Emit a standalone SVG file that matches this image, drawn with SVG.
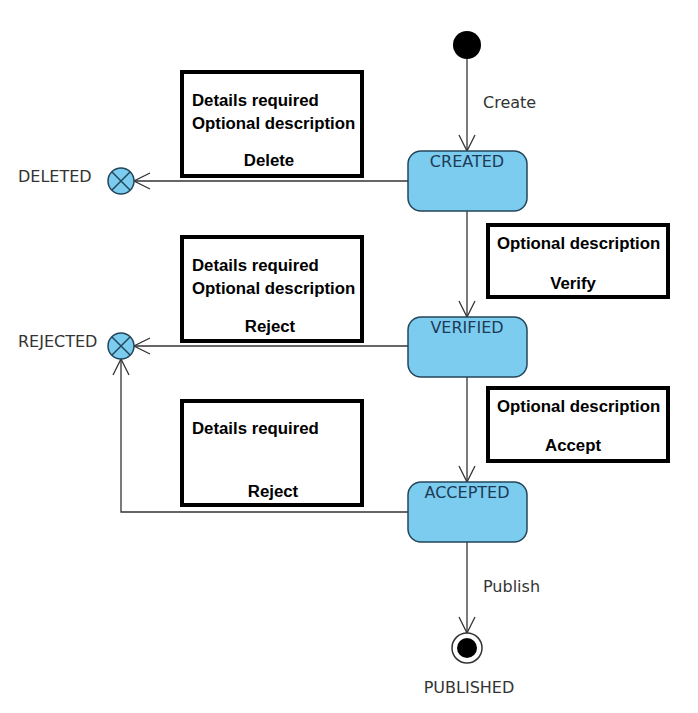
<svg xmlns="http://www.w3.org/2000/svg" width="698" height="713" viewBox="0 0 698 713">
<style>
.state{fill:#7cccf0;stroke:#23465a;stroke-width:1.5}
.sname{font-family:"DejaVu Sans",sans-serif;font-size:16px;fill:#1d3b55;text-anchor:middle}
.lbl{font-family:"DejaVu Sans",sans-serif;font-size:16px;fill:#333}
.note{fill:#fff;stroke:#000;stroke-width:4}
.nt{font-family:"Liberation Sans",sans-serif;font-weight:bold;font-size:16.8px;fill:#000}
.edge{fill:none;stroke:#333;stroke-width:1.3}
.term{fill:#7cccf0;stroke:#23465a;stroke-width:1.5}
</style>
<defs>
<marker id="arr" markerWidth="18" markerHeight="20" refX="17" refY="10" orient="auto" markerUnits="userSpaceOnUse">
<path d="M1,2 L17,10 L1,18" fill="none" stroke="#333" stroke-width="1.3"/>
</marker>
</defs>
<rect width="698" height="713" fill="#fff"/>
<g id="connectors">
<line class="edge" x1="467" y1="59" x2="467" y2="151" marker-end="url(#arr)"/>
<line class="edge" x1="467" y1="211" x2="467" y2="317" marker-end="url(#arr)"/>
<line class="edge" x1="467" y1="377" x2="467" y2="482" marker-end="url(#arr)"/>
<line class="edge" x1="467" y1="542" x2="467" y2="633" marker-end="url(#arr)"/>
<line class="edge" x1="408" y1="181" x2="134" y2="181" marker-end="url(#arr)"/>
<line class="edge" x1="408" y1="346" x2="134" y2="346" marker-end="url(#arr)"/>
<polyline class="edge" points="408,512 121,512 121,359" marker-end="url(#arr)"/>
<text class="lbl" x="483" y="108">Create</text>
<text class="lbl" x="483" y="592">Publish</text>
</g>
<g id="initial"><circle cx="467" cy="45" r="14" fill="#000"/></g>
<g id="created">
<rect class="state" x="408" y="151" width="119" height="60" rx="13"/>
<text class="sname" x="467" y="167">CREATED</text>
</g>
<g id="verified">
<rect class="state" x="408" y="317" width="119" height="60" rx="13"/>
<text class="sname" x="467" y="333">VERIFIED</text>
</g>
<g id="accepted">
<rect class="state" x="408" y="482" width="119" height="60" rx="13"/>
<text class="sname" x="467" y="498">ACCEPTED</text>
</g>
<g id="published">
<circle cx="467" cy="648" r="15" fill="#fff" stroke="#333" stroke-width="1.5"/>
<circle cx="467" cy="648" r="10" fill="#000"/>
<text class="lbl" x="469" y="693" text-anchor="middle">PUBLISHED</text>
</g>
<g id="deleted">
<circle class="term" cx="121" cy="181" r="13"/>
<path d="M112,172 L130,190 M130,172 L112,190" stroke="#23465a" stroke-width="1.5"/>
<text class="lbl" x="18" y="182">DELETED</text>
</g>
<g id="rejected">
<circle class="term" cx="121" cy="346" r="13"/>
<path d="M112,337 L130,355 M130,337 L112,355" stroke="#23465a" stroke-width="1.5"/>
<text class="lbl" x="18" y="347">REJECTED</text>
</g>
<g id="note-delete">
<rect class="note" x="182" y="72" width="180" height="104"/>
<text class="nt" x="192" y="106">Details required</text>
<text class="nt" x="192" y="129">Optional description</text>
<text class="nt" x="269" y="166" text-anchor="middle">Delete</text>
</g>
<g id="note-reject1">
<rect class="note" x="182" y="237" width="180" height="104"/>
<text class="nt" x="192" y="271">Details required</text>
<text class="nt" x="192" y="294">Optional description</text>
<text class="nt" x="270" y="332" text-anchor="middle">Reject</text>
</g>
<g id="note-reject2">
<rect class="note" x="182" y="401" width="180" height="104"/>
<text class="nt" x="192" y="434">Details required</text>
<text class="nt" x="273" y="497" text-anchor="middle">Reject</text>
</g>
<g id="note-verify">
<rect class="note" x="488" y="225" width="180" height="72"/>
<text class="nt" x="497" y="249">Optional description</text>
<text class="nt" x="573" y="289" text-anchor="middle">Verify</text>
</g>
<g id="note-accept">
<rect class="note" x="488" y="388" width="180" height="73"/>
<text class="nt" x="497" y="412">Optional description</text>
<text class="nt" x="573" y="451" text-anchor="middle">Accept</text>
</g>
</svg>
